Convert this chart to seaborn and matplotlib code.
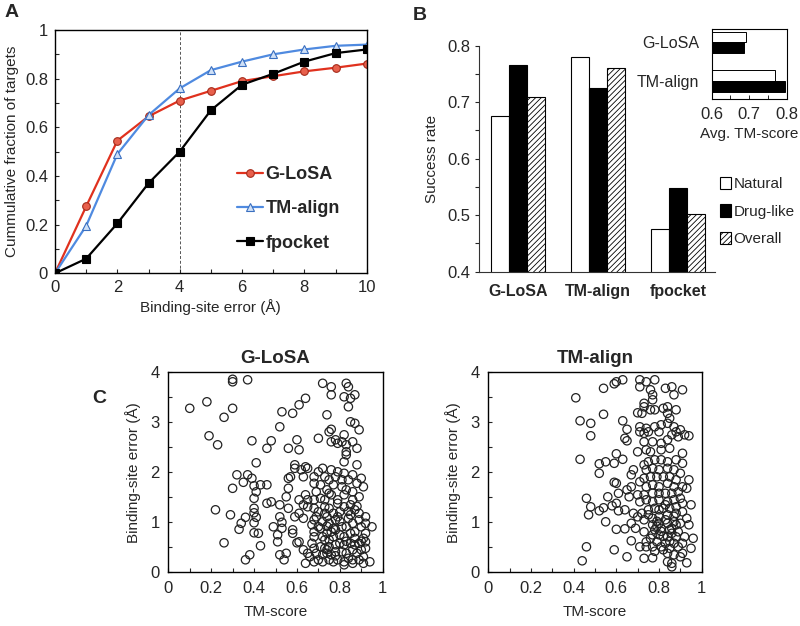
import numpy as np
import pandas as pd
import matplotlib
matplotlib.use("Agg")
import matplotlib.pyplot as plt
import seaborn as sns
from matplotlib.patches import Patch
from matplotlib.ticker import MultipleLocator

# ---------------- data ----------------
# Panel A
err_cutoff = [0, 1, 2, 3, 4, 5, 6, 7, 8, 9, 10]
glosa_cum = [0, 0.275, 0.545, 0.645, 0.71, 0.75, 0.79, 0.81, 0.83, 0.845, 0.862]
tmalign_cum = [0, 0.195, 0.49, 0.65, 0.76, 0.835, 0.87, 0.90, 0.92, 0.935, 0.94]
fpocket_cum = [0, 0.06, 0.205, 0.37, 0.50, 0.67, 0.775, 0.82, 0.87, 0.905, 0.92]

# Panel B
methods = ["G-LoSA", "TM-align", "fpocket"]
natural_rate = [0.675, 0.78, 0.475]
druglike_rate = [0.765, 0.726, 0.549]
overall_rate = [0.71, 0.76, 0.502]

# Panel B inset
inset_methods = ["G-LoSA", "TM-align"]
inset_natural = [0.691, 0.769]
inset_druglike = [0.686, 0.796]

# Panel C (G-LoSA)
glosa_tm = [0.10, 0.18, 0.30, 0.26, 0.19, 0.23, 0.30, 0.30, 0.37, 0.39,
            0.48, 0.46, 0.41, 0.53, 0.52, 0.58, 0.60, 0.61, 0.64, 0.56,
            0.61, 0.70, 0.72, 0.76, 0.76, 0.74, 0.75, 0.76, 0.83, 0.84,
            0.82, 0.85, 0.87, 0.84, 0.85, 0.87, 0.89, 0.82, 0.81, 0.83,
            0.86, 0.88, 0.76, 0.78, 0.79, 0.83, 0.82, 0.88, 0.32, 0.37,
            0.39, 0.30, 0.35, 0.40, 0.43, 0.41, 0.40, 0.46, 0.46, 0.48,
            0.22, 0.29, 0.40, 0.40, 0.41, 0.36, 0.34, 0.33, 0.40, 0.40,
            0.42, 0.43, 0.26, 0.38, 0.36, 0.49, 0.53, 0.52, 0.52, 0.51,
            0.52, 0.55, 0.54, 0.51, 0.53, 0.55, 0.56, 0.56, 0.57, 0.56,
            0.58, 0.58, 0.59, 0.60, 0.61, 0.59, 0.59, 0.62, 0.64, 0.65,
            0.63, 0.64, 0.61, 0.63, 0.65, 0.65, 0.61, 0.63, 0.63, 0.64,
            0.65, 0.68, 0.67, 0.68, 0.68, 0.70, 0.68, 0.69, 0.68, 0.68,
            0.71, 0.69, 0.68, 0.68, 0.70, 0.72, 0.73, 0.71, 0.74, 0.75,
            0.76, 0.78, 0.79, 0.77, 0.75, 0.73, 0.73, 0.75, 0.77, 0.74,
            0.72, 0.75, 0.78, 0.79, 0.80, 0.82, 0.79, 0.82, 0.83, 0.81,
            0.84, 0.86, 0.82, 0.88, 0.90, 0.91, 0.86, 0.89, 0.86, 0.85,
            0.87, 0.89, 0.92, 0.89, 0.86, 0.83, 0.81, 0.78, 0.76, 0.74,
            0.72, 0.73, 0.75, 0.77, 0.80, 0.82, 0.85, 0.87, 0.90, 0.92,
            0.95, 0.92, 0.91, 0.92, 0.89, 0.87, 0.85, 0.82, 0.80, 0.78,
            0.75, 0.73, 0.71, 0.69, 0.72, 0.74, 0.76, 0.78, 0.81, 0.83,
            0.86, 0.88, 0.90, 0.92, 0.91, 0.89, 0.86, 0.84, 0.82, 0.79,
            0.77, 0.75, 0.72, 0.70, 0.68, 0.82, 0.86, 0.91, 0.94, 0.83,
            0.71, 0.74, 0.77, 0.80, 0.84, 0.87, 0.70, 0.79, 0.85, 0.76,
            0.81, 0.88, 0.67, 0.73, 0.83, 0.78, 0.90, 0.66, 0.84, 0.74]
glosa_err = [3.28, 3.41, 3.28, 3.10, 2.73, 2.55, 3.81, 3.86, 3.85, 2.63,
             2.63, 2.48, 2.19, 3.21, 2.91, 3.18, 2.65, 3.35, 3.48, 2.48,
             2.45, 2.68, 3.78, 3.71, 3.55, 3.15, 2.81, 2.86, 3.78, 3.71,
             3.51, 3.48, 3.55, 3.31, 3.01, 2.98, 2.85, 2.75, 2.61, 2.55,
             2.61, 2.48, 2.61, 2.65, 2.58, 2.41, 2.21, 2.15, 1.95, 1.95,
             1.88, 1.68, 1.80, 1.73, 1.75, 1.61, 1.48, 1.75, 1.38, 1.41,
             1.25, 1.15, 1.28, 1.19, 1.10, 1.10, 0.98, 0.86, 0.99, 0.79,
             0.78, 0.53, 0.59, 0.35, 0.25, 0.91, 1.00, 1.11, 1.35, 0.61,
             0.35, 0.38, 0.25, 0.75, 0.88, 1.51, 1.68, 1.88, 1.91, 1.28,
             0.85, 0.78, 1.11, 0.59, 0.61, 2.15, 2.08, 2.05, 2.11, 2.08,
             1.91, 1.55, 1.45, 1.35, 1.45, 1.31, 1.18, 1.08, 0.45, 0.18,
             0.38, 0.48, 0.58, 0.71, 0.81, 0.91, 1.05, 1.11, 1.28, 1.45,
             1.48, 1.61, 1.78, 1.91, 2.01, 2.08, 1.91, 1.75, 1.65, 1.85,
             2.05, 1.91, 2.01, 1.75, 1.58, 1.45, 1.31, 1.28, 1.18, 1.11,
             1.01, 0.98, 1.05, 1.11, 1.21, 1.31, 1.45, 1.55, 1.65, 1.71,
             1.85, 1.95, 1.98, 1.78, 1.88, 1.71, 1.61, 1.51, 1.45, 1.35,
             1.25, 1.18, 1.11, 1.05, 0.98, 0.91, 0.91, 0.85, 0.81, 0.78,
             0.71, 0.65, 0.65, 0.71, 0.75, 0.71, 0.78, 0.81, 0.91, 0.98,
             0.91, 0.78, 0.68, 0.61, 0.58, 0.55, 0.58, 0.55, 0.58, 0.55,
             0.51, 0.48, 0.51, 0.38, 0.35, 0.38, 0.35, 0.41, 0.41, 0.38,
             0.45, 0.38, 0.45, 0.48, 0.31, 0.25, 0.25, 0.28, 0.21, 0.25,
             0.21, 0.25, 0.21, 0.25, 0.21, 0.15, 0.18, 0.18, 0.21, 2.35,
             0.88, 0.92, 0.88, 1.02, 1.08, 0.68, 1.21, 1.38, 1.15, 1.55,
             1.85, 1.32, 0.95, 1.18, 0.62, 0.33, 0.62, 0.31, 1.22, 0.45]

# Panel C (TM-align)
tmalign_tm = [0.41, 0.54, 0.59, 0.60, 0.63, 0.54, 0.43, 0.48, 0.48, 0.63,
              0.65, 0.64, 0.65, 0.60, 0.43, 0.52, 0.55, 0.59, 0.63, 0.52,
              0.68, 0.67, 0.59, 0.60, 0.61, 0.46, 0.56, 0.48, 0.47, 0.52,
              0.54, 0.58, 0.60, 0.61, 0.55, 0.60, 0.64, 0.64, 0.66, 0.65,
              0.67, 0.68, 0.67, 0.69, 0.67, 0.46, 0.59, 0.65, 0.44, 0.71,
              0.71, 0.74, 0.76, 0.77, 0.77, 0.73, 0.73, 0.70, 0.72, 0.76,
              0.78, 0.82, 0.84, 0.88, 0.91, 0.87, 0.86, 0.83, 0.78, 0.84,
              0.85, 0.84, 0.81, 0.78, 0.74, 0.71, 0.71, 0.73, 0.75, 0.80,
              0.87, 0.88, 0.90, 0.92, 0.94, 0.89, 0.86, 0.84, 0.81, 0.77,
              0.73, 0.74, 0.70, 0.76, 0.81, 0.85, 0.91, 0.91, 0.88, 0.84,
              0.81, 0.78, 0.75, 0.73, 0.74, 0.77, 0.80, 0.84, 0.87, 0.90,
              0.94, 0.93, 0.91, 0.88, 0.85, 0.82, 0.79, 0.76, 0.73, 0.71,
              0.74, 0.77, 0.80, 0.84, 0.87, 0.89, 0.86, 0.83, 0.80, 0.77,
              0.73, 0.70, 0.71, 0.74, 0.77, 0.80, 0.84, 0.87, 0.90, 0.95,
              0.91, 0.88, 0.85, 0.82, 0.78, 0.75, 0.72, 0.70, 0.73, 0.77,
              0.80, 0.84, 0.88, 0.91, 0.93, 0.94, 0.90, 0.87, 0.84, 0.80,
              0.77, 0.78, 0.81, 0.85, 0.89, 0.73, 0.77, 0.80, 0.84, 0.88,
              0.92, 0.96, 0.91, 0.87, 0.83, 0.79, 0.74, 0.71, 0.74, 0.77,
              0.81, 0.85, 0.89, 0.95, 0.91, 0.87, 0.84, 0.73, 0.77, 0.84,
              0.86, 0.86, 0.93, 0.90, 0.79, 0.82, 0.86, 0.75, 0.83, 0.80,
              0.88, 0.76, 0.82, 0.85, 0.79, 0.81, 0.87, 0.83, 0.78, 0.86]
tmalign_err = [3.49, 3.68, 3.77, 3.81, 3.85, 3.16, 3.03, 2.98, 2.73, 3.03,
               2.86, 2.68, 2.63, 2.37, 2.26, 2.17, 2.21, 2.18, 2.26, 1.98,
               2.05, 1.95, 1.80, 1.78, 1.58, 1.48, 1.51, 1.31, 1.15, 1.23,
               1.29, 1.33, 1.38, 1.23, 1.01, 0.86, 0.87, 1.25, 1.51, 1.65,
               1.71, 1.18, 0.98, 0.88, 0.63, 0.51, 0.45, 0.31, 0.23, 3.71,
               3.85, 3.81, 3.65, 3.55, 3.45, 3.38, 3.31, 3.19, 3.18, 3.25,
               3.25, 3.28, 3.31, 3.25, 3.65, 3.55, 3.71, 3.68, 3.85, 3.18,
               3.08, 2.98, 2.95, 2.91, 2.88, 2.91, 2.81, 2.78, 2.81, 2.81,
               2.91, 2.81, 2.85, 2.75, 2.73, 2.71, 2.75, 2.65, 2.58, 2.61,
               2.61, 2.45, 2.41, 2.41, 2.45, 2.48, 2.38, 2.18, 2.25, 2.21,
               2.25, 2.25, 2.21, 2.15, 2.05, 2.08, 2.05, 2.08, 2.05, 1.98,
               1.85, 1.68, 1.71, 1.85, 1.91, 1.91, 1.91, 1.91, 1.88, 1.81,
               1.71, 1.75, 1.71, 1.78, 1.71, 1.61, 1.58, 1.58, 1.58, 1.58,
               1.55, 1.55, 1.41, 1.45, 1.41, 1.45, 1.41, 1.45, 1.48, 1.35,
               1.38, 1.31, 1.28, 1.28, 1.28, 1.25, 1.18, 1.11, 1.05, 1.08,
               1.11, 1.15, 1.18, 1.21, 1.08, 0.95, 0.98, 1.01, 0.98, 0.98,
               0.95, 0.85, 0.88, 0.85, 0.81, 0.81, 0.75, 0.75, 0.71, 0.71,
               0.71, 0.68, 0.58, 0.58, 0.58, 0.61, 0.61, 0.51, 0.51, 0.51,
               0.51, 0.48, 0.51, 0.48, 0.38, 0.35, 0.38, 0.28, 0.29, 0.21,
               0.18, 0.11, 0.19, 0.31, 0.92, 0.72, 0.88, 1.15, 1.35, 1.25,
               0.95, 0.68, 0.45, 0.62, 1.02, 0.82, 1.12, 1.05, 0.42, 0.78]

# ---------------- style ----------------
sns.set_style("ticks")
plt.rcParams["font.family"] = ["Liberation Sans", "DejaVu Sans"]
plt.rcParams["hatch.linewidth"] = 0.6

W, H = 800, 626
fig = plt.figure(figsize=(8, 6.26), dpi=100)


def ax_px(left, top, right, bottom):
    return fig.add_axes([left / W, 1 - bottom / H, (right - left) / W, (bottom - top) / H])


TICK = 12
LAB = 11

# ---------------- Panel A ----------------
axA = ax_px(55, 30, 366.7, 273.3)
dfA = pd.DataFrame({"err": err_cutoff * 3,
                    "frac": glosa_cum + tmalign_cum + fpocket_cum,
                    "method": ["G-LoSA"] * 11 + ["TM-align"] * 11 + ["fpocket"] * 11})
styleA = {
    "G-LoSA": dict(color="#e0311e", marker="o", mfc="#e8604c", mec="#a52a1a", ms=5.5),
    "TM-align": dict(color="#4f8ae0", marker="^", mfc="#cfe0f7", mec="#3a6fc0", ms=5.5),
    "fpocket": dict(color="black", marker="s", mfc="black", mec="black", ms=5.5),
}
for m in ["G-LoSA", "TM-align", "fpocket"]:
    st = styleA[m]
    sns.lineplot(data=dfA[dfA.method == m], x="err", y="frac", ax=axA, color=st["color"],
                 marker=st["marker"], markerfacecolor=st["mfc"], markeredgecolor=st["mec"],
                 markersize=st["ms"], markeredgewidth=0.8, linewidth=1.6, label=m)
axA.axvline(4, color="#555555", linestyle=(0, (3, 2)), linewidth=0.7, zorder=0)
axA.set_xlim(0, 10)
axA.set_ylim(0, 1)
axA.set_xticks([0, 2, 4, 6, 8, 10])
axA.set_yticks([0, 0.2, 0.4, 0.6, 0.8, 1])
axA.set_yticklabels(["0", "0.2", "0.4", "0.6", "0.8", "1"])
axA.yaxis.set_minor_locator(MultipleLocator(0.1))
axA.xaxis.set_minor_locator(MultipleLocator(1))
axA.tick_params(which="both", direction="in", length=3, width=0.8, labelsize=TICK, pad=5)
axA.set_xlabel("Binding-site error (Å)", fontsize=LAB, labelpad=3)
axA.set_ylabel("Cummulative fraction of targets", fontsize=LAB, labelpad=4)
for s in axA.spines.values():
    s.set_linewidth(1.0)
    s.set_color("black")
legA = axA.legend(loc="upper left", bbox_to_anchor=(0.584, 0.44), frameon=False,
                  prop={"weight": "bold", "size": 13}, handlelength=1.45,
                  handletextpad=0.12, labelspacing=0.95, borderaxespad=0, borderpad=0)

# ---------------- Panel B ----------------
axB = ax_px(479.3, 45.7, 715, 271.7)
dfB = pd.DataFrame({"method": methods * 3,
                    "rate": natural_rate + druglike_rate + overall_rate,
                    "type": ["Natural"] * 3 + ["Drug-like"] * 3 + ["Overall"] * 3})
sns.barplot(data=dfB, x="method", y="rate", hue="type", ax=axB,
            palette=["white", "black", "white"], edgecolor="black", linewidth=0.8,
            width=0.675, gap=0, legend=False, saturation=1)
for p in axB.patches[6:9]:
    p.set_hatch("//////")
axB.set_ylim(0.4, 0.8)
axB.set_xlim(-0.49, 2.46)
axB.set_yticks([0.4, 0.5, 0.6, 0.7, 0.8])
axB.yaxis.set_minor_locator(MultipleLocator(0.05))
axB.tick_params(axis="y", which="both", direction="out", length=3, width=0.8, labelsize=TICK)
axB.tick_params(axis="x", length=0, pad=9)
for t in axB.get_xticklabels():
    t.set_fontweight("bold")
    t.set_fontsize(11.5)
axB.set_xlabel("")
axB.set_ylabel("Success rate", fontsize=LAB, labelpad=6)
sns.despine(ax=axB)
for s in ["left", "bottom"]:
    axB.spines[s].set_color("#333333")
    axB.spines[s].set_linewidth(0.8)

handles = [Patch(facecolor="white", edgecolor="black", linewidth=0.8, label="Natural"),
           Patch(facecolor="black", edgecolor="black", linewidth=0.8, label="Drug-like"),
           Patch(facecolor="white", edgecolor="black", linewidth=0.8, hatch="//////", label="Overall")]
fig.legend(handles=handles, loc="upper left", bbox_to_anchor=(720 / W, 1 - 177 / H),
           frameon=False, fontsize=11, handlelength=0.75, handleheight=0.85,
           handletextpad=0.15, labelspacing=0.85, borderaxespad=0, borderpad=0)

# ---------------- Inset ----------------
axI = ax_px(711.7, 29, 786.7, 99)
dfI = pd.DataFrame({"method": inset_methods * 2,
                    "score": inset_natural + inset_druglike,
                    "type": ["Natural"] * 2 + ["Drug-like"] * 2})
sns.barplot(data=dfI, y="method", x="score", hue="type", orient="h", ax=axI,
            palette=["white", "black"], edgecolor="black", linewidth=0.7,
            width=0.57, gap=0, legend=False, saturation=1)
axI.set_xlim(0.6, 0.8)
axI.set_ylim(1.47, -0.35)
axI.set_xticks([0.6, 0.7, 0.8])
axI.set_xticklabels(["0.6", "0.7", "0.8"])
axI.xaxis.set_minor_locator(MultipleLocator(0.05))
axI.tick_params(axis="x", which="both", direction="in", length=3, width=0.7, labelsize=TICK, pad=6)
axI.tick_params(axis="y", length=0, labelsize=11.5, pad=9)
axI.set_ylabel("")
axI.set_xlabel("Avg. TM-score", fontsize=LAB, labelpad=3)
for s in axI.spines.values():
    s.set_linewidth(0.8)
    s.set_color("black")

# ---------------- Panel C ----------------
def scatter_panel(ax, xs, ys, title):
    dfc = pd.DataFrame({"tm": xs, "err": ys})
    sns.scatterplot(data=dfc, x="tm", y="err", ax=ax, s=36, facecolor="none",
                    edgecolor="#222222", linewidth=0.9)
    ax.set_xlim(0, 1)
    ax.set_ylim(0, 4)
    ax.set_xticks([0, 0.2, 0.4, 0.6, 0.8, 1])
    ax.set_xticklabels(["0", "0.2", "0.4", "0.6", "0.8", "1"])
    ax.set_yticks([0, 1, 2, 3, 4])
    ax.xaxis.set_minor_locator(MultipleLocator(0.1))
    ax.yaxis.set_minor_locator(MultipleLocator(0.5))
    ax.tick_params(which="both", direction="in", length=3, width=0.8, labelsize=TICK, pad=6)
    ax.set_xlabel("TM-score", fontsize=LAB, labelpad=7)
    ax.set_ylabel("Binding-site error (Å)", fontsize=LAB, labelpad=7)
    ax.set_title(title, fontsize=13.5, fontweight="bold", pad=7)
    for s in ax.spines.values():
        s.set_linewidth(1.0)
        s.set_color("black")


axC1 = ax_px(168.3, 372.3, 382.7, 572.3)
scatter_panel(axC1, glosa_tm, glosa_err, "G-LoSA")
axC2 = ax_px(488.3, 372.3, 701.7, 572.3)
scatter_panel(axC2, tmalign_tm, tmalign_err, "TM-align")

# ---------------- panel letters ----------------
fig.text(5 / W, 1 - 4 / H, "A", fontsize=14, fontweight="bold", va="top", ha="left")
fig.text(413 / W, 1 - 7 / H, "B", fontsize=14, fontweight="bold", va="top", ha="left")
fig.text(92 / W, 1 - 390 / H, "C", fontsize=14, fontweight="bold", va="top", ha="left")

fig.savefig("out.png", dpi=100)
